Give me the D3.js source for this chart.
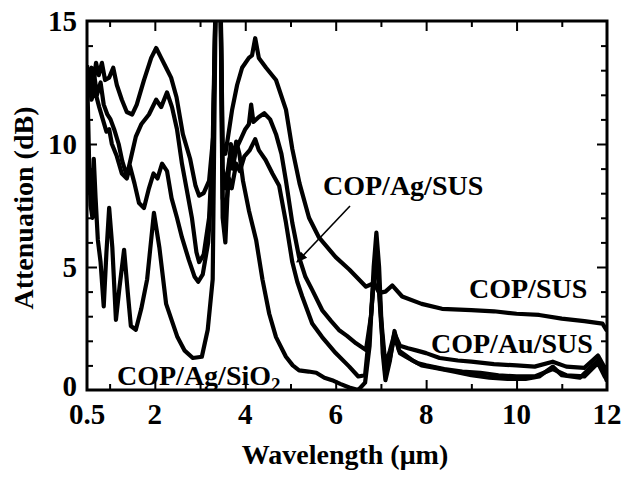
<!DOCTYPE html>
<html>
<head>
<meta charset="utf-8">
<script src="https://cdn.jsdelivr.net/npm/d3@7"></script>
<style>
  body { margin: 0; background: #fff; }
</style>
</head>
<body>
<div id="chart"></div>
<script>
// wavelength (um), attenuation (dB)
var copSus = [[0.5,13.2],[0.55,12.5],[0.6,13.1],[0.65,12.6],[0.7,13.3],[0.76,12.8],[0.83,13.3],[0.9,12.6],[0.99,12.7],[1.08,13.1],[1.16,12.4],[1.27,11.8],[1.38,11.3],[1.5,11.2],[1.6,11.6],[1.76,12.6],[1.92,13.5],[2.03,13.9],[2.14,13.5],[2.25,13.1],[2.36,12.7],[2.48,11.9],[2.62,10.4],[2.78,9.4],[2.9,8.3],[2.98,7.9],[3.08,8.0],[3.2,8.5],[3.29,10.3],[3.35,16.5],[3.45,16.5],[3.5,10],[3.56,9.6],[3.62,10.3],[3.71,11.4],[3.82,12.4],[3.93,13.1],[4.08,13.5],[4.15,13.6],[4.22,14.3],[4.3,13.5],[4.46,13.1],[4.68,12.6],[4.9,11.4],[5.04,9.8],[5.2,8.4],[5.41,7.0],[5.63,6.2],[6.0,5.4],[6.3,4.9],[6.67,4.2],[6.85,4.35],[6.96,3.95],[7.1,4.0],[7.25,4.25],[7.47,3.8],[7.9,3.5],[8.35,3.3],[9.0,3.25],[9.5,3.2],[10.0,3.1],[10.5,3.05],[11.0,2.9],[11.5,2.8],[11.9,2.7],[12.0,2.4]];

var copAgSus = [[0.5,12.6],[0.55,13.0],[0.6,12.2],[0.66,12.8],[0.72,12.0],[0.8,12.5],[0.87,11.6],[0.95,11.2],[1.02,11.0],[1.1,10.6],[1.2,10.0],[1.28,9.3],[1.38,8.7],[1.48,9.5],[1.58,10.3],[1.7,10.8],[1.87,11.2],[2.03,11.8],[2.14,11.5],[2.27,12.1],[2.38,11.5],[2.49,10.6],[2.6,9.2],[2.72,8.0],[2.82,7.0],[2.92,5.6],[2.98,5.2],[3.08,5.5],[3.2,7.0],[3.28,10],[3.35,16.5],[3.45,16.5],[3.5,9.0],[3.56,8.2],[3.65,9.4],[3.72,9.0],[3.8,9.8],[3.9,10.2],[4.0,10.6],[4.08,10.8],[4.13,11.6],[4.18,10.9],[4.3,11.1],[4.42,11.25],[4.55,11.0],[4.68,10.4],[4.8,9.6],[4.9,8.5],[5.04,6.8],[5.19,5.4],[5.33,4.6],[5.48,4.07],[5.7,3.25],[5.9,2.8],[6.07,2.44],[6.25,2.2],[6.45,1.9],[6.67,1.63],[6.78,3.0],[6.9,5.9],[7.0,3.0],[7.1,1.0],[7.2,1.6],[7.3,2.3],[7.42,1.8],[7.6,1.7],[7.8,1.6],[8.0,1.5],[8.3,1.3],[8.7,1.2],[9.0,1.15],[9.5,1.05],[10.0,1.0],[10.4,0.95],[10.8,1.15],[11.1,0.95],[11.5,0.9],[11.8,1.4],[11.95,0.9],[12.0,0.7]];

var copAuSus = [[0.5,12.1],[0.55,12.5],[0.6,11.8],[0.67,12.2],[0.77,11.5],[0.85,11.0],[0.93,10.5],[0.99,10.6],[1.05,10.0],[1.16,9.5],[1.27,8.8],[1.38,8.6],[1.45,9.1],[1.55,8.4],[1.65,7.6],[1.76,7.4],[1.87,8.2],[1.97,8.8],[2.06,8.6],[2.16,9.2],[2.27,8.9],[2.37,7.8],[2.49,7.0],[2.6,6.2],[2.75,5.3],[2.88,4.6],[2.96,4.4],[3.06,4.7],[3.18,6.0],[3.28,9],[3.35,16.5],[3.45,16.5],[3.5,7.8],[3.56,7.2],[3.64,8.6],[3.7,8.2],[3.8,9.2],[3.88,8.9],[3.98,9.5],[4.1,9.75],[4.22,10.2],[4.3,9.75],[4.45,9.35],[4.6,8.8],[4.75,8.3],[4.9,6.8],[5.04,5.2],[5.15,4.4],[5.26,3.8],[5.48,2.7],[5.7,2.15],[6.0,1.5],[6.3,0.95],[6.5,0.55],[6.65,0.6],[6.78,3.0],[6.9,5.7],[7.0,2.8],[7.1,0.6],[7.2,1.3],[7.3,2.2],[7.42,1.5],[7.6,1.3],[7.8,1.1],[8.0,1.0],[8.4,0.85],[8.8,0.75],[9.2,0.7],[9.6,0.6],[10.0,0.55],[10.4,0.55],[10.8,0.85],[11.1,0.6],[11.5,0.55],[11.8,1.1],[11.95,0.55],[12.0,0.45]];

var copAgSiO2 = [[0.5,12.8],[0.52,11.5],[0.55,9.0],[0.58,7.5],[0.62,7.0],[0.65,9.4],[0.69,7.8],[0.74,6.1],[0.8,5.2],[0.87,3.4],[0.93,5.6],[0.99,7.4],[1.06,5.8],[1.14,2.85],[1.22,4.2],[1.32,5.7],[1.4,4.0],[1.47,2.6],[1.58,2.45],[1.7,3.3],[1.83,4.5],[1.98,7.2],[2.1,5.8],[2.25,3.5],[2.37,2.85],[2.5,2.15],[2.66,1.6],[2.84,1.3],[3.04,1.35],[3.17,2.45],[3.28,4.5],[3.35,16.5],[3.45,16.5],[3.5,7.0],[3.56,6.0],[3.62,8.5],[3.68,10.0],[3.74,9.4],[3.8,10.1],[3.87,9.6],[3.95,8.5],[4.08,7.3],[4.24,6.1],[4.38,4.5],[4.53,3.1],[4.68,2.15],[4.9,1.35],[5.05,1.0],[5.19,0.8],[5.4,0.75],[5.57,0.7],[5.75,0.5],[5.92,0.4],[6.1,0.25],[6.3,0.1],[6.5,0.0],[6.65,0.3],[6.75,1.8],[6.84,5.0],[6.9,6.4],[6.96,5.0],[7.04,1.5],[7.1,0.4],[7.2,1.2],[7.3,2.4],[7.4,1.6],[7.55,1.4],[7.7,1.2],[7.9,1.0],[8.2,0.9],[8.6,0.75],[9.0,0.6],[9.4,0.5],[9.8,0.45],[10.2,0.45],[10.5,0.55],[10.8,0.95],[11.0,0.6],[11.4,0.5],[11.8,1.2],[11.95,0.6],[12.0,0.35]];

var xTickLabels = [0.5, 2, 4, 6, 8, 10, 12];
var yTickLabels = [0, 5, 10, 15];
var xMinorTicks = [1, 2, 3, 4, 5, 6, 7, 8, 9, 10, 11];
var yMinorTicks = [1, 2, 3, 4, 5, 6, 7, 8, 9, 10, 11, 12, 13, 14];

var opt = {
  width: 622,
  height: 479,
  margin: {top: 21, right: 15, bottom: 89, left: 87}
};
opt.inWidth = opt.width - opt.margin.left - opt.margin.right;
opt.inHeight = opt.height - opt.margin.top - opt.margin.bottom;

var svg = d3.select("#chart").append("svg")
  .attr("width", opt.width)
  .attr("height", opt.height);

var g = svg.append("g")
  .attr("transform", `translate(${opt.margin.left},${opt.margin.top})`);

var x = d3.scaleLinear().domain([0.5, 12]).range([0, opt.inWidth]);
var y = d3.scaleLinear().domain([0, 15]).range([opt.inHeight, 0]);

g.append("clipPath").attr("id", "plotclip")
  .append("rect")
  .attr("width", opt.inWidth)
  .attr("height", opt.inHeight);

var line = d3.line()
  .x(function(d) { return x(d[0]); })
  .y(function(d) { return y(d[1]); })
  .curve(d3.curveLinear);

// curves
[copSus, copAgSus, copAuSus, copAgSiO2].forEach(function(s) {
  g.append("path")
    .datum(s)
    .attr("clip-path", "url(#plotclip)")
    .attr("d", line)
    .style("fill", "none")
    .style("stroke", "#000")
    .style("stroke-width", 4.2)
    .style("stroke-linejoin", "round");
});

// inward ticks on all four sides
function tickLen(v, majors) { return majors.indexOf(v) >= 0 ? 10 : 6; }
var xMaj = [2, 4, 6, 8, 10];
var yMaj = [5, 10];

g.append("g").call(d3.axisBottom(x).tickValues(xMinorTicks).tickSize(0).tickFormat(""))
  .attr("transform", "translate(0," + opt.inHeight + ")")
  .selectAll(".tick").append("line")
  .attr("y2", function(d) { return -tickLen(d, xMaj); });
g.append("g").call(d3.axisTop(x).tickValues(xMinorTicks).tickSize(0).tickFormat(""))
  .selectAll(".tick").append("line")
  .attr("y2", function(d) { return tickLen(d, xMaj); });
g.append("g").call(d3.axisLeft(y).tickValues(yMinorTicks).tickSize(0).tickFormat(""))
  .selectAll(".tick").append("line")
  .attr("x2", function(d) { return tickLen(d, yMaj); });
g.append("g").call(d3.axisRight(y).tickValues(yMinorTicks).tickSize(0).tickFormat(""))
  .attr("transform", "translate(" + opt.inWidth + ",0)")
  .selectAll(".tick").append("line")
  .attr("x2", function(d) { return -tickLen(d, yMaj); });

g.selectAll(".domain").remove();
g.selectAll(".tick line").style("stroke", "#000").style("stroke-width", 2);

// frame
g.append("rect")
  .attr("width", opt.inWidth)
  .attr("height", opt.inHeight)
  .style("fill", "none")
  .style("stroke", "#000")
  .style("stroke-width", 3);

// tick labels
g.selectAll(".xlab").data(xTickLabels).enter()
  .append("text")
  .attr("x", function(d) { return x(d); })
  .attr("y", opt.inHeight + 34)
  .style("text-anchor", "middle")
  .style("font-size", "29px")
  .text(function(d) { return d; });

g.selectAll(".ylab").data(yTickLabels).enter()
  .append("text")
  .attr("x", -10)
  .attr("y", function(d) { return y(d); })
  .attr("dy", function(d) { return d === 0 ? "0.2em" : "0.35em"; })
  .style("text-anchor", "end")
  .style("font-size", "29px")
  .text(function(d) { return d; });

// axis titles
svg.append("text")
  .attr("x", opt.margin.left + opt.inWidth / 2 - 2)
  .attr("y", 464)
  .style("text-anchor", "middle")
  .style("font-size", "28px")
  .text("Wavelength (\u03bcm)");

svg.append("text")
  .attr("transform", "translate(33,208) rotate(-90)")
  .style("text-anchor", "middle")
  .style("font-size", "28px")
  .text("Attenuation (dB)");

// curve labels
var labels = [
  {t: "COP/SUS", x: 469, y: 298},
  {t: "COP/Au/SUS", x: 431, y: 353},
  {t: "COP/Ag/SUS", x: 323, y: 195}
];
svg.selectAll(".clab").data(labels).enter()
  .append("text")
  .attr("x", function(d) { return d.x; })
  .attr("y", function(d) { return d.y; })
  .style("font-size", "28px")
  .text(function(d) { return d.t; });

var sio2 = svg.append("text")
  .attr("x", 117)
  .attr("y", 385)
  .style("font-size", "28px")
  .text("COP/Ag/SiO");
sio2.append("tspan")
  .attr("dy", 6)
  .style("font-size", "19px")
  .text("2");

// heavy serif face, like the scanned figure
svg.selectAll("text")
  .style("font-family", "Liberation Serif")
  .style("font-weight", "bold")
  .style("fill", "#000");

// arrow to the COP/Ag/SUS curve
svg.append("defs").append("marker")
  .attr("id", "arr")
  .attr("viewBox", "0 0 10 10")
  .attr("refX", 9).attr("refY", 5)
  .attr("markerWidth", 7).attr("markerHeight", 7)
  .attr("orient", "auto")
  .append("path").attr("d", "M0,1L10,5L0,9Z").style("fill", "#000");

svg.append("line")
  .attr("x1", 350).attr("y1", 206)
  .attr("x2", 297).attr("y2", 262)
  .style("stroke", "#000")
  .style("stroke-width", 1.6)
  .attr("marker-end", "url(#arr)");
</script>
</body>
</html>
